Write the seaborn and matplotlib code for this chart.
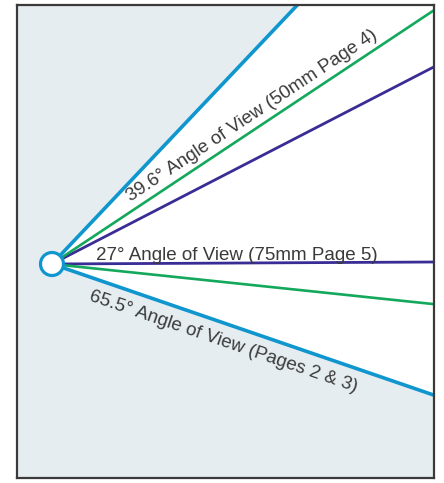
import numpy as np
import pandas as pd
import matplotlib
matplotlib.use('Agg')
import matplotlib.pyplot as plt
import seaborn as sns

# angles of view and their labels
viewNames = ['65.5°', '39.6°', '27°']
viewAngles = [65.5, 39.6, 27.0]
viewLabels = ['65.5° Angle of View (Pages 2 & 3)',
              '39.6° Angle of View (50mm Page 4)',
              '27° Angle of View (75mm Page 5)']

tilt = 13.8  # the camera axis points a little upwards
rayLength = 2000

sns.set_style('white')
plt.rcParams['font.family'] = ['Liberation Sans', 'DejaVu Sans']

lineColors = {'65.5°': '#0f96cf', '39.6°': '#13a85c', '27°': '#3a2c95'}
lineWidths = {'65.5°': 2.6, '39.6°': 1.9, '27°': 2.0}
shadeColor = '#e5edf1'
textColor = '#3a3a3a'

# build one row per end point of every ray
rows = []
for name, ang in zip(viewNames, viewAngles):
    for side, sign in (('upper', 1), ('lower', -1)):
        a = np.radians(tilt + sign*ang/2)
        rows.append({'view': name, 'edge': name + side, 'x': 0.0, 'y': 0.0})
        rows.append({'view': name, 'edge': name + side,
                     'x': rayLength*np.cos(a), 'y': rayLength*np.sin(a)})
dfRays = pd.DataFrame(rows)

W, H = 444, 483
fig = plt.figure(figsize=(W/100, H/100), dpi=100)
ax = fig.add_axes([17/W, 5/H, 417/W, 473/H])
ax.set_xlim(-35, 382)
ax.set_ylim(-214, 259)
ax.set_aspect('equal')

#Shade everything outside the widest cone
ax.set_facecolor(shadeColor)
wide = dfRays[dfRays['view'] == viewNames[0]]
ax.fill([0, wide['x'].iloc[1], wide['x'].iloc[3]],
        [0, wide['y'].iloc[1], wide['y'].iloc[3]], color='white', zorder=1)

#Draw the rays of each angle of view
for name in viewNames[::-1]:
    sub = dfRays[dfRays['view'] == name]
    sns.lineplot(data=sub, x='x', y='y', units='edge', estimator=None, sort=False,
                 color=lineColors[name], lw=lineWidths[name], ax=ax, zorder=3)

#The camera position
ax.add_patch(plt.Circle((0, 0), 11.5, facecolor='white',
                        edgecolor=lineColors['65.5°'], lw=2.3, zorder=5))

#Labels along the rays
def along(angle, dist, off):
    a = np.radians(angle)
    return (dist*np.cos(a) - off*np.sin(a), dist*np.sin(a) + off*np.cos(a))

a39 = tilt + viewAngles[1]/2
x, y = along(a39, 100, 4)
ax.text(x, y, viewLabels[1], rotation=a39, rotation_mode='anchor',
        ha='left', va='bottom', fontsize=13.5, color=textColor, zorder=6)

ax.text(44, 4, viewLabels[2], rotation=0, ha='left', va='baseline',
        fontsize=13.5, color=textColor, zorder=6)

a65 = tilt - viewAngles[0]/2
x, y = along(a65, 46, -9)
ax.text(x, y, viewLabels[0], rotation=a65, rotation_mode='anchor',
        ha='left', va='top', fontsize=13.5, color=textColor, zorder=6)

ax.set_xticks([])
ax.set_yticks([])
ax.set_xlabel('')
ax.set_ylabel('')
for s in ax.spines.values():
    s.set_visible(True)
    s.set_color('#3a3a3a')
    s.set_linewidth(1.6)
    s.set_zorder(10)

fig.savefig('out.png', dpi=100)
